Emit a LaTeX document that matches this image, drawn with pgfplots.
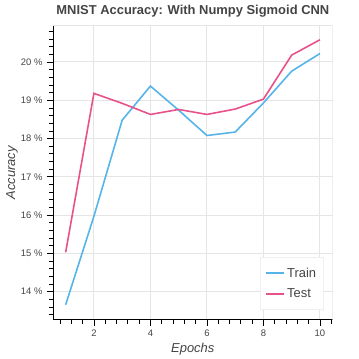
\documentclass[border=0pt]{standalone}
\usepackage{pgfplots}
\pgfplotsset{compat=1.18}
\usepackage{fontspec}
\setmainfont{Liberation Sans}
\definecolor{trainc}{HTML}{56B4E9}
\definecolor{testc}{HTML}{E8528A}
\definecolor{gridc}{HTML}{E5E5E5}
\definecolor{legc}{HTML}{EFEFEF}
\definecolor{txtc}{HTML}{444444}
\begin{document}
\begin{tikzpicture}
\begin{axis}[
  name=ax,
  scale only axis,
  width=280bp, height=294bp,
  xmin=0.55, xmax=10.45,
  ymin=13.27, ymax=20.94,
  axis x line*=bottom, axis y line*=left,
  axis line style={black, line width=0.8bp, -},
  xtick={2,4,6,8,10},
  ytick={14,15,16,17,18,19,20},
  minor xtick={0.8,1.2,1.6,2.4,2.8,3.2,3.6,4.4,4.8,5.2,5.6,6.4,6.8,7.2,7.6,8.4,8.8,9.2,9.6,10.4},
  minor ytick={13.4,13.6,13.8,14.2,14.4,14.6,14.8,15.2,15.4,15.6,15.8,16.2,16.4,16.6,16.8,17.2,17.4,17.6,17.8,18.2,18.4,18.6,18.8,19.2,19.4,19.6,19.8,20.2,20.4,20.6,20.8},
  tick align=outside,
  major tick length=6bp, minor tick length=4bp,
  every tick/.style={black, line width=0.8bp},
  grid=major,
  major grid style={gridc, line width=1bp},
  /pgf/number format/assume math mode=true,
  yticklabel={\pgfmathprintnumber[fixed,precision=0]{\tick} \%},
  ticklabel style={font=\fontsize{9.5}{11}\selectfont, text=txtc},
  xticklabel style={yshift=-1bp},
  yticklabel style={xshift=-1bp},
  xlabel={\itshape Epochs},
  ylabel={\itshape Accuracy},
  label style={font=\fontsize{13}{15}\selectfont, text=txtc},
  xlabel style={at={(axis description cs:0.5,-0.102)}, anchor=center},
  ylabel style={at={(axis description cs:-0.146,0.5)}, anchor=center, rotate=0},
  title={\bfseries MNIST Accuracy: With Numpy Sigmoid CNN},
  title style={at={(axis description cs:0,1)}, anchor=base west, yshift=6bp, font=\fontsize{13}{15}\selectfont, text=txtc},
  legend style={at={(axis description cs:1,0)}, anchor=south east, xshift=-9bp, yshift=10bp,
    draw=legc, line width=1bp, fill=white, font=\fontsize{13}{15}\selectfont, text=txtc,
    inner xsep=5bp, inner ysep=8bp, row sep=6bp,
    /tikz/every even column/.append style={column sep=1bp}},
  legend cell align=left,
  legend image code/.code={\draw[#1, line width=2bp] (0bp,0bp) -- (18bp,0bp);},
]
\draw[gridc, line width=1bp] (rel axis cs:0,1) -- (rel axis cs:1,1) -- (rel axis cs:1,0);
\addplot[trainc, line width=1.6bp] coordinates {
(1,13.66) (2,15.97) (3,18.48) (4,19.37) (5,18.74) (6,18.08) (7,18.17) (8,18.93) (9,19.76) (10,20.22)};
\addlegendentry{Train}
\addplot[testc, line width=1.6bp] coordinates {
(1,15.03) (2,19.18) (3,18.92) (4,18.63) (5,18.76) (6,18.63) (7,18.77) (8,19.03) (9,20.18) (10,20.58)};
\addlegendentry{Test}
\end{axis}
\path[use as bounding box] (-53bp,-39bp) rectangle (306bp,320bp);
\end{tikzpicture}
\end{document}
